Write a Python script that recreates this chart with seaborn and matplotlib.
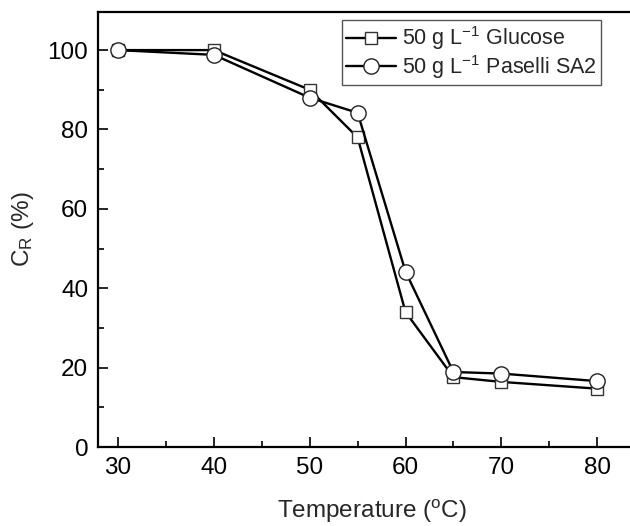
import numpy as np
import pandas as pd
import matplotlib
matplotlib.use('Agg')
import matplotlib.pyplot as plt
import seaborn as sns
from matplotlib.ticker import MultipleLocator

temperature = [30, 40, 50, 55, 60, 65, 70, 80]
glucose = [100, 100, 90, 78, 34, 17.6, 16.4, 14.7]
paselli = [100, 98.8, 88, 84.2, 44.2, 18.9, 18.5, 16.6]

sns.set_style('ticks')
plt.rcParams['font.family'] = ['Liberation Sans', 'DejaVu Sans']
plt.rcParams['mathtext.fontset'] = 'custom'
plt.rcParams['mathtext.rm'] = 'Liberation Sans'
plt.rcParams['mathtext.it'] = 'Liberation Sans'

fig = plt.figure(figsize=(6.3, 5.26), dpi=100)
ax = fig.add_axes([98 / 630, 79 / 526, 547 / 630, 435 / 526])

sns.lineplot(x=temperature, y=glucose, ax=ax, color='black', lw=1.7, marker='s',
             markersize=9, markerfacecolor='white', markeredgecolor='#333333',
             markeredgewidth=1.0, label=r'50 g L$^{\mathregular{-1}}$ Glucose')
sns.lineplot(x=temperature, y=paselli, ax=ax, color='black', lw=1.7, marker='o',
             markersize=11, markerfacecolor='white', markeredgecolor='#222222',
             markeredgewidth=1.0, label=r'50 g L$^{\mathregular{-1}}$ Paselli SA2')

ax.set_xlim(27.9, 85)
ax.set_ylim(0, 109.6)
ax.xaxis.set_major_locator(MultipleLocator(10))
ax.xaxis.set_minor_locator(MultipleLocator(5))
ax.yaxis.set_major_locator(MultipleLocator(20))
ax.yaxis.set_minor_locator(MultipleLocator(10))
ax.tick_params(which='both', direction='in', labelsize=17.5, width=1.2, colors='black', pad=7)
ax.tick_params(which='major', length=7)
ax.tick_params(which='minor', length=4)
for s in ax.spines.values():
    s.set_linewidth(1.6)
    s.set_color('black')

ax.set_xlabel(r'Temperature ($^{\mathregular{o}}$C)', fontsize=17.5, labelpad=14)
ax.set_ylabel(r'C$_{\mathregular{R}}$ (%)', fontsize=17.5, labelpad=8)

leg = ax.legend(loc='upper left', bbox_to_anchor=(244 / 547, 0.982), fontsize=15.5,
                frameon=True, fancybox=False, edgecolor='#555555', framealpha=1,
                borderaxespad=0, handlelength=2.3, handletextpad=0.3,
                borderpad=0.2, labelspacing=0.05)
leg.get_frame().set_linewidth(1.0)

fig.savefig('out.png', dpi=100)
